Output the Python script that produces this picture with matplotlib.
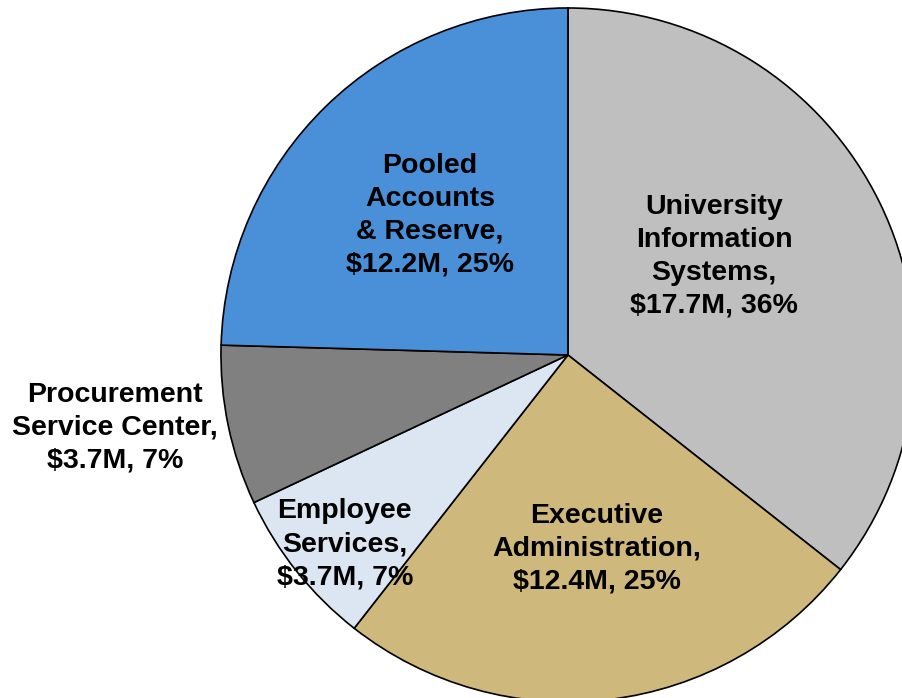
import matplotlib.pyplot as plt

# slices in drawing order, clockwise from 12 o'clock
names = ['University\nInformation\nSystems,', 'Executive\nAdministration,',
         'Employee\nServices,', 'Procurement\nService Center,',
         'Pooled\nAccounts\n& Reserve,']
amounts = [17.7, 12.4, 3.7, 3.7, 12.2]
percents = [36, 25, 7, 7, 25]
colors = ['#BFBFBF', '#CFB87C', '#DCE6F2', '#808080', '#4A90D9']
label_pos = [(0.421, 0.285), (0.084, -0.559), (-0.643, -0.545),
             (-1.305, -0.210), (-0.398, 0.403)]

plt.rcParams['font.family'] = ['Liberation Sans', 'DejaVu Sans']

fig = plt.figure(figsize=(9.03, 6.98), dpi=100)
ax = fig.add_axes([0.2447, -0.0057, 0.7685, 0.9943])
ax.pie(amounts, colors=colors, startangle=90, counterclock=False, radius=1,
       wedgeprops={'edgecolor': 'black', 'linewidth': 1.2, 'clip_on': False})
ax.set_xlim(-1, 1)
ax.set_ylim(-1, 1)
ax.set_aspect('equal')
ax.axis('off')

for name, amount, pct, (x, y) in zip(names, amounts, percents, label_pos):
    ax.text(x, y, f'{name}\n${amount}M, {pct}%', ha='center', va='center',
            multialignment='center', fontsize=20.5, fontweight='bold',
            linespacing=1.35, clip_on=False)

fig.savefig('out.png', dpi=100)
